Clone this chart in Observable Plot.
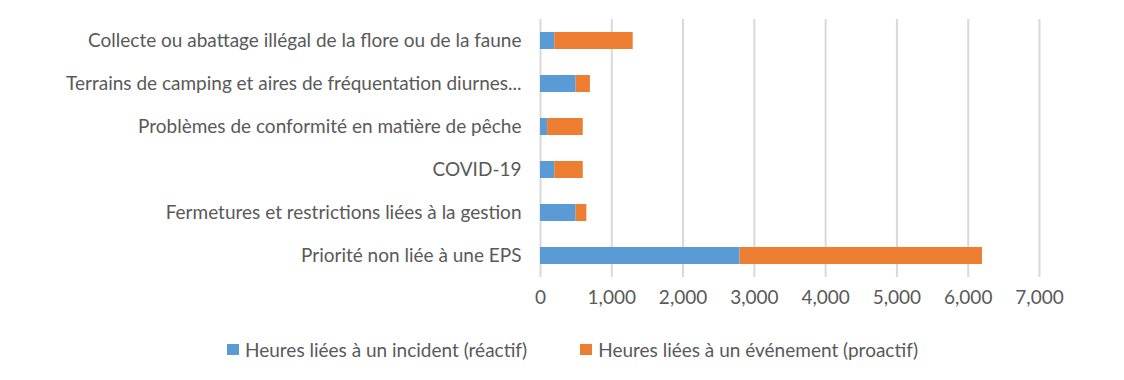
<!DOCTYPE html>
<html>
<head>
<meta charset="utf-8">
<script src="https://cdn.jsdelivr.net/npm/d3@7"></script>
<script src="https://cdn.jsdelivr.net/npm/@observablehq/plot@0.6"></script>
<style>
  body { margin: 0; background: #fff; font-family: Lato, "Open Sans", sans-serif; }
  #chart svg { display: block; }
  .legend { display: flex; justify-content: flex-start; align-items: center; height: 58px; font-size: 19px; color: #595959; padding-left: 227px; }
  .legend .item { display: flex; align-items: center; }
  .legend .item + .item { margin-left: 53px; }
  .legend .sw { width: 12px; height: 11px; margin-right: 6px; }
</style>
</head>
<body>
<div id="chart"></div>
<script>
const categories = [
  "Collecte ou abattage illégal de la flore ou de la faune",
  "Terrains de camping et aires de fréquentation diurnes...",
  "Problèmes de conformité en matière de pêche",
  "COVID-19",
  "Fermetures et restrictions liées à la gestion",
  "Priorité non liée à une EPS"
];
const reactif = [200, 500, 100, 200, 500, 2800];
const proactif = [1100, 200, 500, 400, 150, 3400];
const seriesNames = ["Heures liées à un incident (réactif)", "Heures liées à un événement (proactif)"];
const seriesColors = ["#5B9BD5", "#ED7D31"];
const xTicks = [0, 1000, 2000, 3000, 4000, 5000, 6000, 7000];

const data = [];
categories.forEach((c, i) => {
  data.push({cat: c, series: seriesNames[0], value: reactif[i]});
  data.push({cat: c, series: seriesNames[1], value: proactif[i]});
});

const chart = Plot.plot({
  width: 1124,
  height: 320,
  marginLeft: 540,
  marginRight: 85,
  marginTop: 19,
  marginBottom: 43,
  style: { fontFamily: "Lato, 'Open Sans', sans-serif", fontSize: "19px", color: "#595959", background: "#fff" },
  x: { domain: [0, 7000], ticks: xTicks, tickFormat: d3.format(","), label: null },
  y: { domain: categories, paddingInner: 0.6, paddingOuter: 0.3, label: null },
  color: { domain: seriesNames, range: seriesColors },
  marks: [
    Plot.gridX(xTicks, { stroke: "#d9d9d9", strokeWidth: 2, strokeOpacity: 1 }),
    Plot.barX(data, Plot.stackX({ y: "cat", x: "value", fill: "series", order: seriesNames })),
    Plot.axisX({ ticks: xTicks, tickSize: 0, tickPadding: 13, tickFormat: d3.format(","), label: null }),
    Plot.axisY({ tickSize: 0, tickPadding: 19, label: null })
  ]
});
document.getElementById("chart").appendChild(chart);

const legend = document.createElement("div");
legend.className = "legend";
seriesNames.forEach((n, i) => {
  const it = document.createElement("div");
  it.className = "item";
  const sw = document.createElement("span");
  sw.className = "sw";
  sw.style.background = seriesColors[i];
  const t = document.createElement("span");
  t.textContent = n;
  it.appendChild(sw); it.appendChild(t);
  legend.appendChild(it);
});
document.body.appendChild(legend);
</script>
</body>
</html>
